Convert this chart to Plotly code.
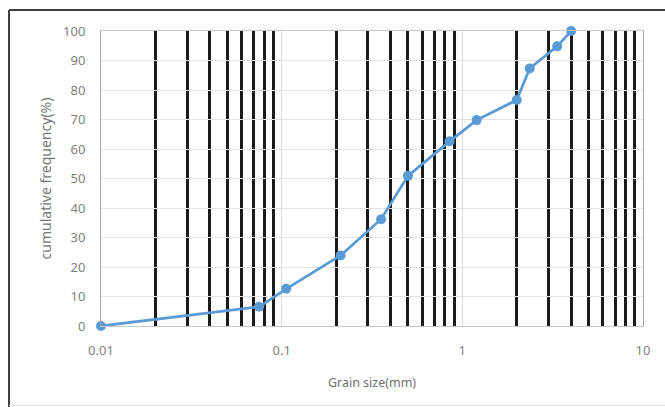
import plotly.graph_objects as go

grain_size_mm = [0.01, 0.075, 0.106, 0.212, 0.355, 0.5, 0.85, 1.2, 2.0, 2.36, 3.35, 4.0]
cumulative_pct = [0, 6.5, 12.6, 23.9, 36.2, 50.9, 62.6, 69.8, 76.6, 87.3, 94.8, 100]

decades = [0.01, 0.1, 1]
multipliers = [2, 3, 4, 5, 6, 7, 8, 9]
minor_vals = [d * m for d in decades for m in multipliers]
x_ticks = [0.01, 0.1, 1, 10]
x_ticktext = ["0.01", "0.1", "1", "10"]
y_ticks = list(range(0, 101, 10))

W, H = 665, 407
ml, mr, mt, mb = 101, 22, 31, 81
pw, ph = W - ml - mr, H - mt - mb

def px_x(p):
    return (p - ml) / pw

def px_y(p):
    return (H - mb - p) / ph

fig = go.Figure()
fig.add_trace(go.Scatter(
    x=grain_size_mm, y=cumulative_pct, mode="lines+markers",
    line=dict(color="#5B9BD5", width=2.75),
    marker=dict(color="#5B9BD5", size=10),
    cliponaxis=False, showlegend=False,
))

tick_font = dict(family="Noto Sans", size=13, color="#7F7F7F")

fig.update_layout(
    width=W, height=H,
    margin=dict(l=ml, r=mr, t=mt, b=mb),
    paper_bgcolor="white", plot_bgcolor="white",
    xaxis=dict(
        type="log", range=[-2, 1],
        tickmode="array", tickvals=x_ticks, ticktext=x_ticktext,
        tickfont=tick_font,
        showgrid=True, gridcolor="#D9D9D9", gridwidth=1,
        minor=dict(tickmode="array", tickvals=minor_vals, showgrid=True,
                   gridcolor="#1A1A1A", gridwidth=2.75, ticks=""),
        ticks="outside", ticklen=12, tickcolor="rgba(0,0,0,0)",
        showline=True, linecolor="#C8C8C8", linewidth=1, mirror=True,
        zeroline=False,
        title=dict(text="Grain size(mm)", font=dict(family="Noto Sans", size=12.5, color="#6F6F6F"), standoff=20),
    ),
    yaxis=dict(
        range=[0, 100], tickmode="array", tickvals=y_ticks,
        tickfont=tick_font,
        showgrid=True, gridcolor="#E3E3E3", gridwidth=1,
        ticks="outside", ticklen=12, tickcolor="rgba(0,0,0,0)",
        showline=True, linecolor="#A6A6A6", linewidth=1, mirror=True,
        zeroline=False,
        title=dict(text="cumulative frequency(%)", font=dict(family="Noto Sans", size=14, color="#767676"), standoff=8),
    ),
    shapes=[
        dict(type="line", xref="paper", yref="paper", x0=px_x(9), x1=px_x(665), y0=px_y(10), y1=px_y(10),
             line=dict(color="#404040", width=2)),
        dict(type="line", xref="paper", yref="paper", x0=px_x(9), x1=px_x(9), y0=px_y(10), y1=px_y(407),
             line=dict(color="#404040", width=2)),
        dict(type="line", xref="paper", yref="paper", x0=px_x(9), x1=px_x(665), y0=px_y(405.5), y1=px_y(405.5),
             line=dict(color="#E0E0E0", width=1)),
    ],
)

fig.write_html("out.html")
